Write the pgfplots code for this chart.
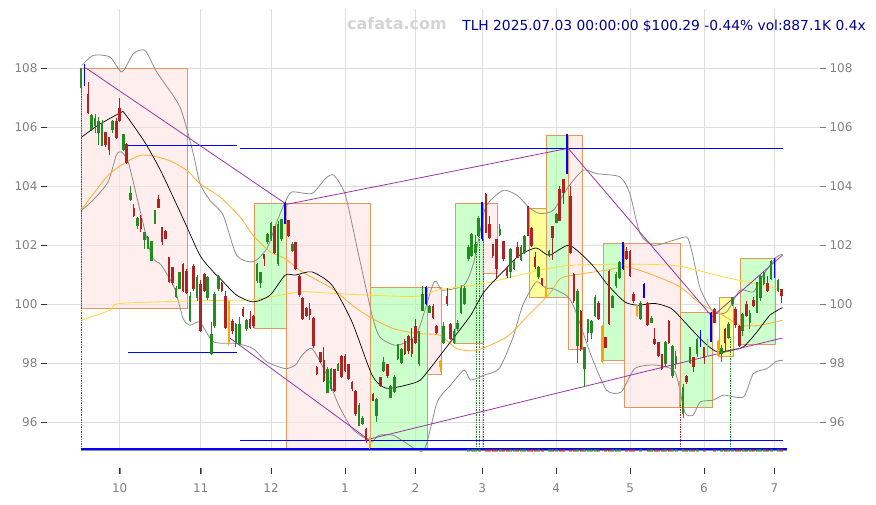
\documentclass[border=0pt]{standalone}
\usepackage{fontspec}
\setmainfont{DejaVu Sans}
\usepackage{pgfplots}
\usepackage{pgfplotstable}
\pgfplotsset{compat=1.18}

\definecolor{cgreen}{RGB}{34,139,34}
\definecolor{cred}{RGB}{178,34,34}
\definecolor{cblue}{RGB}{0,0,255}
\definecolor{corange}{RGB}{255,165,0}
\definecolor{cpurple}{RGB}{155,50,170}
\definecolor{cgrid}{RGB}{221,221,221}
\definecolor{cband}{RGB}{140,140,140}
\definecolor{cmaorange}{RGB}{255,175,40}
\definecolor{cmagold}{RGB}{255,218,60}
\definecolor{cedge}{RGB}{230,150,90}
\definecolor{cpink}{RGB}{255,226,226}
\definecolor{cbgreen}{RGB}{170,255,170}
\definecolor{cbyellow}{RGB}{255,255,85}
\definecolor{ctick}{RGB}{128,128,128}
\definecolor{ctitle}{RGB}{0,0,140}
\definecolor{cwater}{RGB}{212,212,212}

% daily candles, x = trading day since 2024-09-16
\pgfplotstableread{
x o c h l
0 107.37 107.99 108.02 107.15
3 105.93 106.37 106.45 105.85
4 106.07 106.29 106.45 105.80
5 105.82 106.18 106.35 105.40
6 105.39 106.12 106.25 105.35
9 105.93 106.16 106.24 105.80
12 105.24 105.73 105.75 105.20
14 103.56 103.73 104.00 103.50
16 102.66 102.90 102.95 102.55
18 102.20 102.40 102.46 101.87
19 101.91 102.25 102.30 101.85
20 101.49 102.11 102.15 101.45
21 102.73 103.16 103.20 102.70
27 100.28 100.53 100.60 100.20
28 100.55 101.05 101.10 100.50
31 99.46 100.25 100.40 99.40
33 100.25 100.89 101.00 100.10
36 100.25 100.87 100.95 100.15
37 98.33 98.95 99.40 98.28
38 99.29 100.31 100.40 99.20
39 100.53 100.93 101.00 100.45
44 98.72 99.29 99.35 98.55
45 98.67 99.29 99.55 98.60
47 99.18 99.42 99.50 99.10
50 100.81 101.32 101.40 100.70
51 100.76 101.04 101.10 100.55
53 102.14 102.34 102.40 102.05
54 102.23 102.73 102.78 102.15
56 101.38 102.70 102.80 101.30
57 102.23 102.85 102.90 102.15
60 101.83 102.02 102.10 101.78
70 97.03 97.76 97.85 96.98
71 97.14 97.76 97.82 97.05
73 97.76 97.95 98.00 97.72
79 95.90 96.55 96.65 95.85
80 95.95 96.12 96.20 95.90
84 96.22 96.76 96.80 96.00
86 97.76 97.99 98.20 97.70
88 96.86 97.20 97.25 96.80
89 97.03 97.48 97.60 96.98
90 98.16 98.61 98.66 98.10
91 98.04 98.44 98.50 97.98
96 97.99 99.06 99.10 97.90
97 99.80 100.31 100.60 99.75
99 99.74 99.91 99.96 99.70
103 98.72 99.23 99.40 98.65
106 98.72 99.06 99.15 98.65
107 99.18 99.34 99.45 99.10
108 99.74 100.53 100.65 99.65
109 100.02 100.53 100.60 99.95
110 101.55 101.89 102.00 101.45
111 101.66 102.34 102.40 101.60
112 101.77 102.00 102.35 101.70
113 102.34 102.90 103.00 102.28
119 102.36 102.51 102.70 102.30
122 101.10 101.83 101.90 100.90
123 101.21 101.38 101.50 101.15
125 101.53 101.89 102.00 101.45
126 101.77 102.28 102.35 101.70
130 100.93 101.24 101.30 100.85
133 101.66 101.77 101.82 101.60
135 102.79 103.02 103.08 102.75
141 98.61 100.42 100.50 98.00
143 97.82 98.50 98.55 97.20
144 99.06 99.45 99.50 98.70
145 99.06 99.40 99.45 98.80
146 99.63 100.21 100.30 99.55
151 99.91 100.25 100.30 99.85
152 100.64 100.98 101.10 100.55
153 100.93 101.38 101.45 100.85
159 99.51 100.02 100.10 99.45
162 99.40 99.51 99.60 99.35
166 97.99 98.67 98.75 97.90
168 97.59 98.55 98.60 97.50
169 97.99 98.21 98.40 97.80
171 96.29 97.14 97.30 96.15
173 98.04 98.50 98.55 97.95
175 98.33 98.78 98.85 98.20
182 98.33 98.47 98.60 98.05
184 98.89 99.29 99.40 98.80
185 100.02 100.21 100.25 99.95
188 99.12 99.63 99.70 98.90
190 99.40 99.68 99.80 99.15
192 99.74 100.70 100.75 99.70
193 100.25 100.93 101.00 100.10
194 100.70 101.04 101.10 100.65
196 100.87 101.43 101.50 100.80
198 100.47 100.80 100.85 100.40
}\candup

\pgfplotstableread{
x o c h l
2 107.08 106.50 107.54 106.45
7 105.79 105.41 105.82 105.33
8 105.62 105.25 105.68 105.05
10 106.18 105.67 106.30 105.60
11 106.60 106.24 107.00 106.18
13 105.39 104.82 105.45 104.76
15 103.22 103.02 103.40 102.96
17 102.88 102.56 103.02 102.45
22 103.53 103.30 103.70 103.25
23 102.59 102.14 102.62 102.00
24 102.45 102.25 102.50 102.20
25 101.55 100.78 101.60 100.70
26 101.21 100.76 101.25 100.65
29 101.34 100.47 101.40 100.40
30 101.10 100.42 101.20 100.35
32 101.27 100.53 101.35 100.45
34 100.64 99.12 100.80 99.05
35 100.98 100.47 101.05 100.40
40 100.67 100.47 100.75 100.40
41 100.25 99.23 100.45 99.15
43 99.40 99.12 99.50 99.00
46 99.80 99.63 99.90 99.55
48 99.46 99.23 99.75 99.15
49 99.57 99.27 99.62 99.20
52 101.66 101.55 101.70 101.30
55 102.62 101.77 102.66 101.70
59 102.81 102.34 102.86 102.28
61 102.09 101.21 102.12 101.15
62 100.93 100.33 100.98 100.25
63 100.17 99.51 100.25 99.45
64 99.85 99.63 99.90 99.55
65 99.80 99.65 100.05 99.45
66 99.51 98.59 99.55 98.52
67 97.82 97.65 97.90 97.58
68 98.33 98.07 98.38 98.00
69 98.07 97.42 98.55 97.35
72 97.76 97.08 97.80 97.00
74 98.21 97.54 98.28 97.48
75 98.21 97.76 98.30 97.70
76 97.93 97.50 97.98 97.42
77 97.34 97.14 97.40 97.05
78 97.03 96.29 97.08 96.20
81 95.73 95.39 95.78 95.30
83 96.92 96.75 97.00 96.70
85 97.48 97.25 97.52 97.18
87 97.93 97.59 97.98 97.50
92 98.72 98.33 98.80 98.27
93 98.89 98.44 98.95 98.30
94 98.80 98.33 99.20 98.20
95 99.21 98.72 99.50 98.65
100 99.91 99.57 100.00 99.50
101 99.23 99.06 99.30 99.00
104 100.25 100.02 100.55 99.95
105 99.29 98.84 99.35 98.78
115 103.69 102.45 103.75 102.40
116 102.68 102.28 103.00 102.20
117 102.00 101.66 102.05 101.55
118 102.17 101.21 102.20 100.90
120 102.11 101.55 102.15 101.45
121 101.21 100.98 101.30 100.90
124 101.91 101.60 102.10 101.55
127 103.28 102.34 103.32 102.30
128 102.56 102.00 102.60 101.95
129 101.55 101.27 101.75 101.20
131 100.85 100.67 100.90 100.60
134 102.62 102.28 102.65 101.50
136 103.86 102.85 104.00 102.80
137 104.20 103.81 104.25 103.40
139 103.64 101.77 104.00 101.70
140 100.98 100.14 101.05 100.05
142 99.74 98.50 99.80 98.40
147 100.02 99.51 100.10 99.45
149 98.84 98.55 98.88 98.50
150 101.10 99.34 101.15 99.28
155 101.77 101.55 101.95 101.50
156 101.77 100.98 101.82 100.90
157 100.31 100.14 100.40 100.05
161 100.02 99.31 100.08 99.25
163 98.78 98.67 99.20 98.60
164 98.67 98.27 98.72 98.20
165 98.27 97.82 98.30 97.75
167 99.40 98.72 99.45 98.65
172 97.54 97.37 97.60 97.30
174 98.16 97.88 98.20 97.70
177 98.50 98.21 98.55 97.95
180 99.80 99.40 99.85 99.35
183 99.12 98.72 99.18 98.40
186 99.80 99.31 99.90 99.20
187 99.23 98.61 99.30 98.55
189 99.97 99.63 100.10 99.55
191 100.10 99.97 100.25 99.90
195 100.67 100.47 100.95 100.40
199 100.47 100.31 100.52 100.05
}\canddn

\pgfplotstableread{
x o c h l
1 108.10 107.45 108.15 107.40
58 102.75 103.41 103.45 102.70
98 100.02 100.56 100.60 99.98
114 102.23 103.42 103.45 102.15
138 104.43 105.72 105.75 104.40
154 101.21 102.08 102.10 101.15
160 100.25 100.64 100.70 100.20
176 98.61 99.08 99.12 98.55
179 98.75 99.68 99.72 98.70
197 101.49 100.93 101.55 100.90
}\candbl

\pgfplotstableread{
x o c h l
42 100.08 98.72 100.10 98.60
82 95.45 95.15 95.50 95.08
102 98.04 97.88 98.10 97.70
132 100.53 100.31 100.60 100.25
148 99.23 98.07 99.30 98.00
158 99.91 99.63 99.98 99.55
170 97.37 96.58 97.40 96.50
178 98.78 98.27 98.82 98.20
181 98.72 98.27 98.78 98.20
}\candor

\pgfplotsset{
  chartbase/.style={
    scale only axis, width=773pt, height=458pt,
    at={(47pt,37pt)}, anchor=south west,
    xmin=-9.66, xmax=209.94, ymin=94.44, ymax=109.97,
    axis line style={draw=none},
    tick align=outside, major tick length=6pt,
    ticklabel style={font=\fontsize{12}{14}\selectfont, text=ctick},
    /pgf/number format/assume math mode=true,
    ytick={96,98,100,102,104,106,108},
    clip=false,
  },
  wick/.style={draw=none, mark=none, forget plot,
    error bars/.cd, y dir=both, y explicit, error mark=none,
    error bar style={draw=#1, solid, line width=0.8pt}},
  body/.style 2 args={draw=none, mark=none, forget plot,
    error bars/.cd, y dir=both, y explicit, error mark=none,
    error bar style={draw=#1, solid, line width=#2}},
  box/.style={draw=cedge, line width=1pt, fill=#1, fill opacity=0.6, forget plot},
}

\newcommand{\candles}[3]{%
  \addplot[wick=#2] table[x=x, y expr={(\thisrow{h}+\thisrow{l})/2}, y error expr={(\thisrow{h}-\thisrow{l})/2}] {#1};
  \addplot[body={#2}{#3}] table[x=x, y expr={(\thisrow{o}+\thisrow{c})/2}, y error expr={abs(\thisrow{c}-\thisrow{o})/2+0.03}] {#1};
}

\begin{document}
\begin{tikzpicture}
\path[use as bounding box] (0,0) rectangle (876pt,505pt);
\begin{axis}[chartbase,
  xtick={11,34,54,75,95,114,135,156,177,197},
  xticklabels={10,11,12,1,2,3,4,5,6,7},
  xticklabel style={yshift=-6pt},
  xtick pos=bottom, ytick pos=left,
  ymajorgrids, grid style={cgrid, line width=0.9pt},
]
% vertical grid lines at month starts, and the outward tick marks
\pgfplotsinvokeforeach{11,34,54,75,95,114,135,156,177,197}{
  \draw[cgrid, line width=0.9pt] (axis cs:#1,95.0) -- (axis cs:#1,110.0);
  \draw[black!80, line width=0.8pt] (axis cs:#1,94.44) -- ([yshift=-6pt]axis cs:#1,94.44);
}
\pgfplotsinvokeforeach{96,98,100,102,104,106,108}{
  \draw[black!80, line width=0.8pt] (axis cs:-9.66,#1) -- ([xshift=-6pt]axis cs:-9.66,#1);
  \draw[black!80, line width=0.8pt] (axis cs:209.94,#1) -- ([xshift=6pt]axis cs:209.94,#1);
}

% pattern boxes
\addplot[box=cpink] coordinates {(0,99.86) (30.2,99.86) (30.2,107.97) (0,107.97)} --cycle;
\addplot[box=cbgreen] coordinates {(49.2,99.17) (58.4,99.17) (58.4,103.41) (49.2,103.41)} --cycle;
\addplot[box=cpink] coordinates {(58.4,95.1) (82.2,95.1) (82.2,103.41) (58.4,103.41)} --cycle;
\addplot[box=cbgreen] coordinates {(82.2,95.05) (98.4,95.05) (98.4,100.56) (82.2,100.56)} --cycle;
\addplot[box=cpink] coordinates {(98.4,97.62) (102.4,97.62) (102.4,100.56) (98.4,100.56)} --cycle;
\addplot[box=cbgreen] coordinates {(106.3,98.67) (114.3,98.67) (114.3,103.42) (106.3,103.42)} --cycle;
\addplot[box=cpink] coordinates {(114.3,101.04) (118.4,101.04) (118.4,103.42) (114.3,103.42)} --cycle;
\addplot[box=cbyellow] coordinates {(127.4,100.23) (132.2,100.23) (132.2,103.24) (127.4,103.24)} --cycle;
\addplot[box=cbgreen] coordinates {(132.2,100.23) (138.4,100.23) (138.4,105.72) (132.2,105.72)} --cycle;
\addplot[box=cpink] coordinates {(138.4,98.47) (142.5,98.47) (142.5,105.72) (138.4,105.72)} --cycle;
\addplot[box=cbgreen] coordinates {(148.4,98.07) (154.3,98.07) (154.3,102.04) (148.4,102.04)} --cycle;
\addplot[box=cpink] coordinates {(154.3,96.48) (170.4,96.48) (170.4,102.04) (154.3,102.04)} --cycle;
\addplot[box=cbgreen] coordinates {(170.4,96.48) (179.3,96.48) (179.3,99.72) (170.4,99.72)} --cycle;
\addplot[box=cbyellow] coordinates {(181.3,98.22) (185.4,98.22) (185.4,100.23) (181.3,100.23)} --cycle;
\addplot[box=cbgreen] coordinates {(187.3,98.63) (197.4,98.63) (197.4,101.55) (187.3,101.55)} --cycle;

% signal markers
\addplot[cgreen, densely dotted, line width=0.7pt, forget plot] coordinates {(0,95.05) (0,107.97)};
\addplot[cgreen, densely dotted, line width=0.7pt, forget plot] coordinates {(112.2,95.05) (112.2,102.1)};
\addplot[cgreen, densely dotted, line width=0.7pt, forget plot] coordinates {(113.3,95.05) (113.3,102.3)};
\addplot[cgreen, densely dotted, line width=0.7pt, forget plot] coordinates {(114.2,95.05) (114.2,102.2)};
\addplot[cred, densely dotted, line width=0.7pt, forget plot] coordinates {(170.4,95.05) (170.4,96.6)};
\addplot[cgreen, densely dotted, line width=0.7pt, forget plot] coordinates {(184.6,95.05) (184.6,98.9)};

% bollinger bands
\addplot[cband, line width=0.8pt, smooth, tension=0.4, forget plot] coordinates {
(0.2,108.09) (3.5,108.43) (8.2,108.38) (11.6,107.87) (14.9,108.49) (18.2,108.60) (21.5,107.87)
(28.1,106.68) (31.9,105.10) (33.8,104.08) (36.6,103.52) (40.4,103.01) (44.2,101.65) (48.9,101.43)
(52.8,101.88) (55.6,102.78) (58.0,103.46) (59.9,103.80) (65.6,103.75) (69.4,104.25) (71.8,104.37)
(75.1,103.69) (78.9,101.65) (82.7,99.62) (84.9,98.88) (89.7,98.60) (95.4,99.00) (100.3,100.75)
(102.6,100.47) (108.8,100.64) (111.6,101.43) (114.5,103.12) (115.9,103.46) (120.0,103.86)
(123.8,103.69) (127.6,103.24) (130.4,103.07) (134.2,103.18) (138.4,103.97) (142.7,104.54)
(146.5,104.42) (153.1,104.31) (155.9,103.75) (158.8,102.39) (162.6,101.99) (168.3,102.16)
(172.1,102.27) (173.5,101.80) (175.9,100.53) (179.6,99.73) (183.4,99.73) (187.2,100.47)
(191.0,100.41) (193.8,100.98) (197.6,101.60) (199.3,101.68)};
\addplot[cband, line width=0.8pt, smooth, tension=0.4, forget plot] coordinates {
(0.2,103.18) (3.4,103.52) (7.7,104.14) (10.0,105.04) (11.4,105.16) (13.4,104.82) (16.2,103.46)
(20.0,101.65) (22.8,101.32) (26.6,100.53) (29.0,99.51) (31.0,99.28) (33.8,99.39) (37.6,98.72)
(44.2,98.66) (48.9,98.49) (52.8,98.04) (58.0,97.81) (60.9,97.93) (62.8,98.26) (65.6,98.49)
(69.4,97.70) (73.2,96.57) (77.0,95.78) (80.8,95.44) (82.7,95.33) (84.6,95.55) (88.7,95.55)
(91.8,95.33) (97.4,95.04) (101.2,96.68) (105.0,97.25) (108.8,97.76) (110.7,97.42) (114.5,97.59)
(118.8,97.81) (122.6,98.83) (125.5,99.96) (129.3,100.75) (132.1,100.53) (134.0,100.53)
(138.4,100.24) (140.6,99.73) (144.9,98.26) (149.3,97.08) (153.5,97.02) (157.3,97.81)
(163.0,97.93) (168.7,97.70) (171.5,96.34) (173.9,96.23) (175.9,96.68) (179.6,96.74)
(182.5,96.91) (188.2,96.85) (191.0,97.64) (194.8,97.81) (197.6,98.06) (199.3,98.09)};

% moving averages
\addplot[cmagold, line width=0.8pt, smooth, tension=0.4, forget plot] coordinates {
(0.2,99.45) (8.2,99.79) (11.1,100.02) (33.8,100.11) (48.9,100.15) (62.2,100.41) (71.7,100.36)
(82.1,100.30) (95.4,100.26) (102.0,100.49) (114.3,100.69) (130.4,101.15) (139.9,101.32)
(158.8,101.35) (170.2,101.28) (182.5,100.92) (199.3,100.49)};
\addplot[cmaorange, line width=0.8pt, smooth, tension=0.4, forget plot] coordinates {
(0.2,103.21) (8.2,104.42) (16.8,105.04) (24.3,104.90) (30.0,104.54) (33.8,104.08) (39.5,103.63)
(45.2,102.95) (48.9,102.33) (53.7,101.77) (58.0,101.54) (62.8,101.09) (71.3,100.53) (77.0,99.96)
(82.7,99.51) (88.7,99.17) (95.4,99.00) (102.0,98.94) (106.7,98.49) (112.4,98.43) (120.9,98.88)
(126.6,99.56) (133.2,100.36) (136.1,100.86) (139.9,100.98) (149.3,101.15) (155.0,101.26)
(162.6,100.98) (170.2,100.58) (175.9,100.02) (182.4,99.62) (187.2,99.28) (192.9,99.28)
(199.3,99.45)};
\addplot[black, line width=0.7pt, smooth, tension=0.4, forget plot] coordinates {
(0.2,105.66) (4.8,106.06) (11.3,106.49) (12.4,106.46) (18.1,105.49) (22.8,104.48) (29.0,102.90)
(33.8,101.65) (37.6,101.09) (40.4,100.75) (44.2,100.30) (48.9,100.07) (53.7,100.30) (58.0,100.98)
(60.9,100.98) (65.6,101.09) (71.3,100.64) (77.0,99.39) (82.7,97.59) (86.9,97.14) (95.5,97.36)
(98.4,97.70) (105.0,98.72) (110.7,99.62) (114.5,100.41) (120.7,101.20) (124.5,101.65)
(129.3,101.90) (133.0,101.65) (138.7,101.99) (144.9,101.37) (149.7,100.64) (154.5,100.07)
(158.2,99.96) (163.0,100.02) (167.7,99.85) (171.5,99.39) (176.8,98.72) (180.6,98.38)
(184.4,98.43) (188.2,98.55) (192.0,99.05) (195.7,99.62) (199.3,99.88)};

% support / resistance levels
\addplot[cblue, line width=0.8pt, forget plot] coordinates {(13.3,105.37) (44.2,105.37)};
\addplot[cblue, line width=0.8pt, forget plot] coordinates {(45.2,105.28) (199.3,105.28)};
\addplot[cblue, line width=0.8pt, forget plot] coordinates {(13.3,98.36) (44.2,98.36)};
\addplot[cblue, line width=0.8pt, forget plot] coordinates {(45.2,95.38) (199.3,95.38)};
\addplot[cband, line width=0.8pt, forget plot] coordinates {(0,95.02) (200.5,95.02)};
\addplot[cblue, line width=2pt, forget plot] coordinates {(0,95.09) (200.5,95.09)};

% small volume ticks on the base line
\addplot[only marks, mark=square*, mark size=1pt, cgreen, opacity=0.5, forget plot,
  restrict x to domain=110:200] table[x=x, y expr=95.05] {\candup};
\addplot[only marks, mark=square*, mark size=1pt, cred, opacity=0.5, forget plot,
  restrict x to domain=110:200] table[x=x, y expr=95.05] {\canddn};

% zigzag and trend line
\addplot[cpurple, line width=0.8pt, forget plot] coordinates {
(1.3,108.01) (58.4,103.38) (138.4,105.28) (179.3,99.57) (199.3,101.66)};
\addplot[cpurple, line width=0.8pt, forget plot] coordinates {
(42.0,98.87) (81.6,95.41) (199.3,98.85)};

% candles
\candles{\candup}{cgreen}{2.6pt}
\candles{\canddn}{cred}{2.6pt}
\candles{\candor}{corange}{1.8pt}
\candles{\candbl}{cblue}{1.8pt}
\end{axis}

\begin{axis}[chartbase, xtick=\empty, ytick pos=right, yticklabel pos=right]
\addplot[draw=none, forget plot] coordinates {(0,100)};
\end{axis}

\node[anchor=base, font=\fontsize{16}{18}\selectfont\bfseries, text=cwater] at (397pt,475pt) {cafata.com};
\node[anchor=base east, inner sep=0pt, font=\fontsize{13.8}{16}\selectfont, text=ctitle] at (866pt,474pt) {TLH 2025.07.03 00:00:00 \$100.29 -0.44\% vol:887.1K 0.4x};
\end{tikzpicture}
\end{document}
